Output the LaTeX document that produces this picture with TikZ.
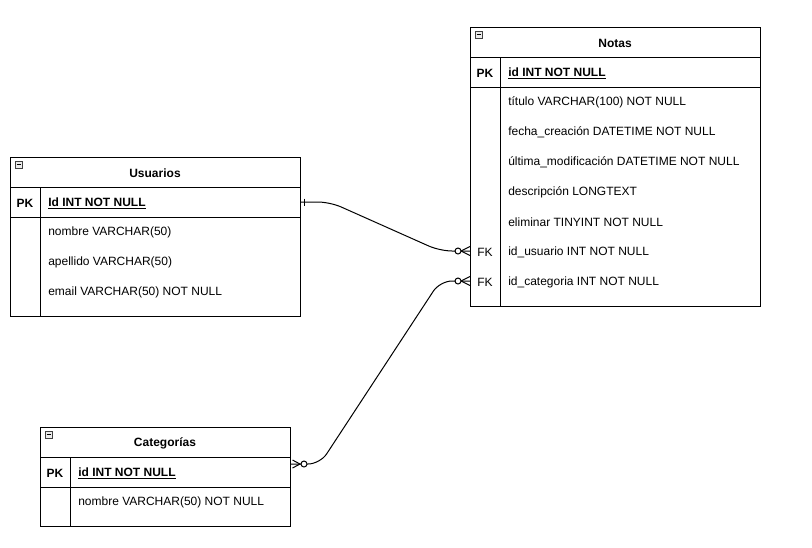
\documentclass[tikz,border=0pt]{standalone}
\usepackage{fontspec}
\setmainfont{Liberation Sans}

\begin{document}
\begin{tikzpicture}[x=0.75pt,y=-0.75pt,
  font=\fontsize{9}{11}\selectfont,
  tbl/.style={draw=black, line width=0.75pt},
  fld/.style={anchor=west, inner sep=0pt, yshift=-1.2pt},
  pkfld/.style={anchor=west, inner sep=0pt, yshift=-1.2pt, font=\fontsize{9}{11}\selectfont\bfseries},
  hdr/.style={inner sep=0pt, yshift=-1pt, font=\fontsize{9}{11}\selectfont\bfseries},
  keylbl/.style={inner sep=0pt, yshift=-1.2pt},
  icon/.style={draw=black!75, fill=black!8, line width=0.5pt},
  rel/.style={draw=black, line width=0.75pt, rounded corners=9pt},
  tick/.style={draw=black, line width=0.75pt},
  ring/.style={draw=black, fill=white, line width=0.75pt}]
\useasboundingbox (0,0) rectangle (812,547);

\draw[tbl] (470,27) rectangle (760,306);
\draw[tbl] (470,57) -- (760,57);
\draw[tbl] (470,87) -- (760,87);
\draw[tbl] (500,57) -- (500,306);
\draw[icon] (475,31) rectangle (482,38);
\draw[line width=0.5pt] (476.5,34.5) -- (480.5,34.5);
\node[hdr] (notas) at (615,42) {Notas};
\node[hdr] (notaspk) at (485,72) {PK};
\node[pkfld] (notasid) at (508,72) {\underline{id INT NOT NULL}};
\node[fld] (titulo) at (508,101) {título VARCHAR(100) NOT NULL};
\node[fld] (fecha) at (508,131) {fecha\_creación DATETIME NOT NULL};
\node[fld] (ultima) at (508,161) {última\_modificación DATETIME NOT NULL};
\node[fld] (descr) at (508,191) {descripción LONGTEXT};
\node[fld] (eliminar) at (508,221) {eliminar TINYINT NOT NULL};
\node[fld] (idusuario) at (508,251) {id\_usuario INT NOT NULL};
\node[fld] (idcategoria) at (508,281) {id\_categoria INT NOT NULL};
\node[keylbl] (fkusuario) at (485,251) {FK};
\node[keylbl] (fkcategoria) at (485,281) {FK};

\draw[tbl] (10,157) rectangle (300,316);
\draw[tbl] (10,187) -- (300,187);
\draw[tbl] (10,217) -- (300,217);
\draw[tbl] (40,187) -- (40,316);
\draw[icon] (15,161) rectangle (22,168);
\draw[line width=0.5pt] (16.5,164.5) -- (20.5,164.5);
\node[hdr] (usuarios) at (155,172) {Usuarios};
\node[hdr] (usuariospk) at (25,202) {PK};
\node[pkfld] (usuariosid) at (48,202) {\underline{Id INT NOT NULL}};
\node[fld] (nombreusr) at (48,231) {nombre VARCHAR(50)};
\node[fld] (apellido) at (48,261) {apellido VARCHAR(50)};
\node[fld] (email) at (48,291) {email VARCHAR(50) NOT NULL};

\draw[tbl] (40,427) rectangle (290,526);
\draw[tbl] (40,457) -- (290,457);
\draw[tbl] (40,487) -- (290,487);
\draw[tbl] (70,457) -- (70,526);
\draw[icon] (45,431) rectangle (52,438);
\draw[line width=0.5pt] (46.5,434.5) -- (50.5,434.5);
\node[hdr] (categorias) at (165,442) {Categorías};
\node[hdr] (categoriaspk) at (55,472) {PK};
\node[pkfld] (categoriasid) at (78,472) {\underline{id INT NOT NULL}};
\node[fld] (nombrecat) at (78,501) {nombre VARCHAR(50) NOT NULL};

\coordinate (usrend) at (300,202);
\coordinate (catend) at (290,464);
\coordinate (fk1end) at (470,251);
\coordinate (fk2end) at (470,281);

\draw[rel] (usrend) -- (330,202) -- (440,251) -- (fk1end);
\draw[tick] (304,198.5) -- (304,205.5);
\draw[tick] (461,251) -- (470,246.5) (461,251) -- (470,255.5);
\draw[ring] (458,251) circle (3);

\draw[rel] (catend) -- (320,464) -- (440,281) -- (fk2end);
\draw[tick] (292.5,460) -- (300,464) -- (292.5,468);
\draw[ring] (304,464) circle (3);
\draw[tick] (461,281) -- (470,276.5) (461,281) -- (470,285.5);
\draw[ring] (458,281) circle (3);
\end{tikzpicture}
\end{document}
